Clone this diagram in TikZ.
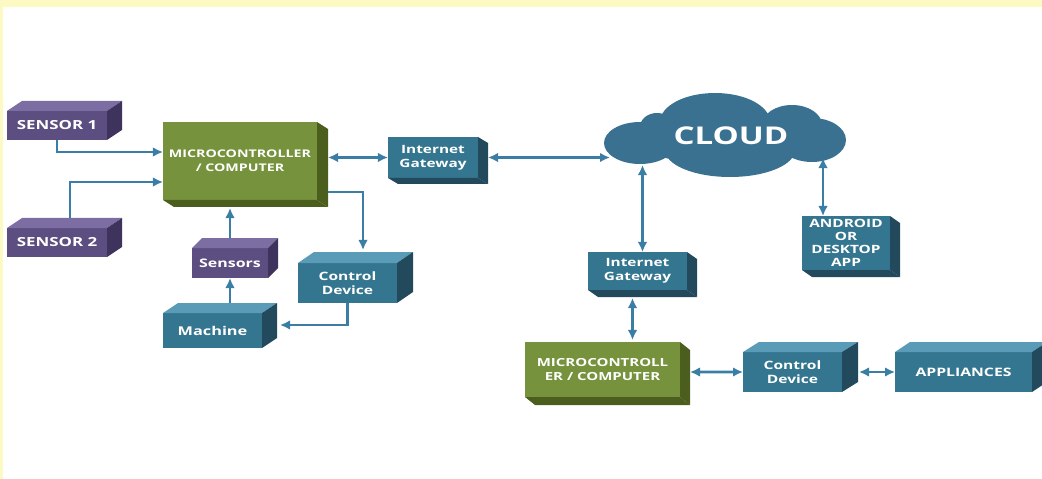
\documentclass[tikz,border=0pt]{standalone}
\usepackage{fontspec}
\setmainfont{Open Sans}[FakeStretch=1.35]
\usetikzlibrary{arrows.meta,calc}

\definecolor{purpF}{HTML}{5C4E80}
\definecolor{purpT}{HTML}{7C6DA2}
\definecolor{purpS}{HTML}{3D335C}
\definecolor{grnF}{HTML}{76923C}
\definecolor{grnS}{HTML}{4B5E1E}
\definecolor{tealF}{HTML}{34768F}
\definecolor{tealT}{HTML}{5A9BB8}
\definecolor{tealS}{HTML}{22495C}
\definecolor{cloudc}{HTML}{3A7190}
\definecolor{linkc}{HTML}{3A7DA5}
\definecolor{edgey}{HTML}{FCFAC2}

% faces of a box seen from above / from below
\newcommand{\topcube}[5]{%
  \fill[#4] (#1.north west) -- ++(#2,#3) -- ($(#1.north east)+(#2,#3)$) -- (#1.north east) -- cycle;
  \fill[#5] (#1.north east) -- ++(#2,#3) -- ($(#1.south east)+(#2,#3)$) -- (#1.south east) -- cycle;
}
\newcommand{\lowcube}[4]{%
  \fill[#4] (#1.south west) -- ++(#2,#3) -- ($(#1.south east)+(#2,#3)$) -- (#1.south east) -- cycle;
  \fill[#4] (#1.north east) -- ++(#2,#3) -- ($(#1.south east)+(#2,#3)$) -- (#1.south east) -- cycle;
}

\tikzset{
  sz/.style 2 args={minimum width=#1*0.025cm, minimum height=#2*0.025cm},
  face/.style={inner sep=0pt, outer sep=0pt, text=white, align=center,
    font=\bfseries\fontsize{#1}{10.2}\selectfont},
  purpbox/.style={face=#1, fill=purpF},
  grnbox/.style={face=#1, fill=grnF},
  tealbox/.style={face=#1, fill=tealF},
  tip/.tip={Latex[length=0.25cm,width=0.24cm]},
  link/.style={draw=linkc, line width=0.065cm, -tip},
  dlink/.style={link, tip-tip},
}

\begin{document}
\begin{tikzpicture}[x=0.025cm,y=-0.025cm]
	\useasboundingbox (0,0) rectangle (1042,479);
	\fill[edgey] (0,0) rectangle (1042,7);
	\fill[edgey] (0,0) rectangle (3,479);

	% local side
	\node[purpbox=8.9, sz={100}{29}] (sensA) at (57,125.5) {SENSOR 1};
	\node[purpbox=8.9, sz={100}{29}] (sensB) at (57,242.5) {SENSOR 2};
	\node[grnbox=7.5, sz={154}{78}] (mcuA) at (240,161) {MICROCONTROLLER\\/ COMPUTER};
	\node[tealbox=8.1, sz={90}{41}] (gwA) at (433,157.5) {Internet\\Gateway};
	\node[tealbox=8.2, sz={99}{40}] (ctlA) at (347.5,283) {Control\\Device};
	\node[purpbox=8.4, sz={76}{30}] (sensC) at (230,263) {Sensors};
	\node[tealbox=8.6, sz={99}{35}] (mach) at (212.5,330.5) {Machine};
	\topcube{sensA}{15}{-10}{purpT}{purpS}
	\topcube{sensB}{15}{-10}{purpT}{purpS}
	\lowcube{mcuA}{11}{7}{grnS}
	\lowcube{gwA}{10}{6}{tealS}
	\topcube{ctlA}{16}{-11}{tealT}{tealS}
	\topcube{sensC}{10}{-10}{purpT}{purpS}
	\topcube{mach}{15}{-10}{tealT}{tealS}

	% cloud side
	\fill[cloudc] (640,143) ellipse [x radius=36, y radius=21]
	  (657,127) ellipse [x radius=17, y radius=14]
	  (715,122) ellipse [x radius=55, y radius=29]
	  (792,125) ellipse [x radius=30, y radius=20]
	  (812,140) ellipse [x radius=34, y radius=22]
	  (730,150) ellipse [x radius=65, y radius=27]
	  (725,140) ellipse [x radius=90, y radius=24];
	\node[inner sep=0pt, outer sep=0pt, sz={242}{84}, text=white,
	  font=\bfseries\fontsize{17.4}{19}\selectfont] (cloud) at (731,136) {CLOUD};
	\node[tealbox=8.1, sz={99}{38}] (gwB) at (637.5,271) {Internet\\Gateway};
	\node[tealbox=8.1, sz={88}{54}, font=\bfseries\fontsize{8.1}{9.4}\selectfont] (app) at (846,243) {ANDROID\\OR\\DESKTOP\\APP};
	\node[grnbox=7.9, sz={155}{55}] (mcuB) at (602.5,369.5) {MICROCONTROLL\\ER / COMPUTER};
	\node[tealbox=8.2, sz={99}{40}] (ctlB) at (792.5,372) {Control\\Device};
	\node[tealbox=8.3, sz={137}{40}] (appl) at (963.5,372) {APPLIANCES};
	\lowcube{gwB}{10}{7}{tealS}
	\lowcube{app}{10}{7}{tealS}
	\lowcube{mcuB}{10}{8}{grnS}
	\topcube{ctlB}{16}{-10}{tealT}{tealS}
	\topcube{appl}{15}{-10}{tealT}{tealS}

	% connectors
	\draw[link] (sensA.south) |- ($(mcuA.west)+(0,-9)$);
	\draw[link] ($(sensB.north)+(13,-10)$) |- ($(mcuA.west)+(0,21)$);
	\coordinate (mcuAr) at ($(mcuA.east)+(11,0)$);
	\draw[dlink] (mcuAr |- gwA.west) -- (gwA.west);
	\coordinate (gwAr) at ($(gwA.east)+(10,0)$);
	\draw[dlink] (gwAr) -- (gwAr -| cloud.west);
	\draw[link] ($(mcuAr)+(0,31)$) -| ($(ctlA.north)+(15.5,-13)$);
	\draw[link] (ctlA.south) |- ($(mach.east)+(18,-5.5)$);
	\draw[link] ($(sensC.south |- mach.north)+(0,-10)$) -- (sensC.south);
	\draw[link] ($(sensC.north)+(0,-10)$) -- ($(sensC.north |- mcuA.south)+(0,8)$);

	\coordinate (gwBt) at ($(gwB.north)+(5,0)$);
	\draw[dlink] (gwBt) -- ($(gwBt |- cloud.south)+(0,-13)$);
	\coordinate (appt) at ($(app.north)+(-23,0)$);
	\draw[dlink] (appt) -- ($(appt |- cloud.south)+(0,-20)$);
	\draw[dlink] ($(mcuB.north)+(30,-2)$) -- ($(gwB.south)+(-5,8)$);
	\draw[dlink] ($(mcuB.east)+(10,2.5)$) -- (ctlB.west);
	\draw[dlink] ($(ctlB.east)+(17,0)$) -- (appl.west);
\end{tikzpicture}
\end{document}
